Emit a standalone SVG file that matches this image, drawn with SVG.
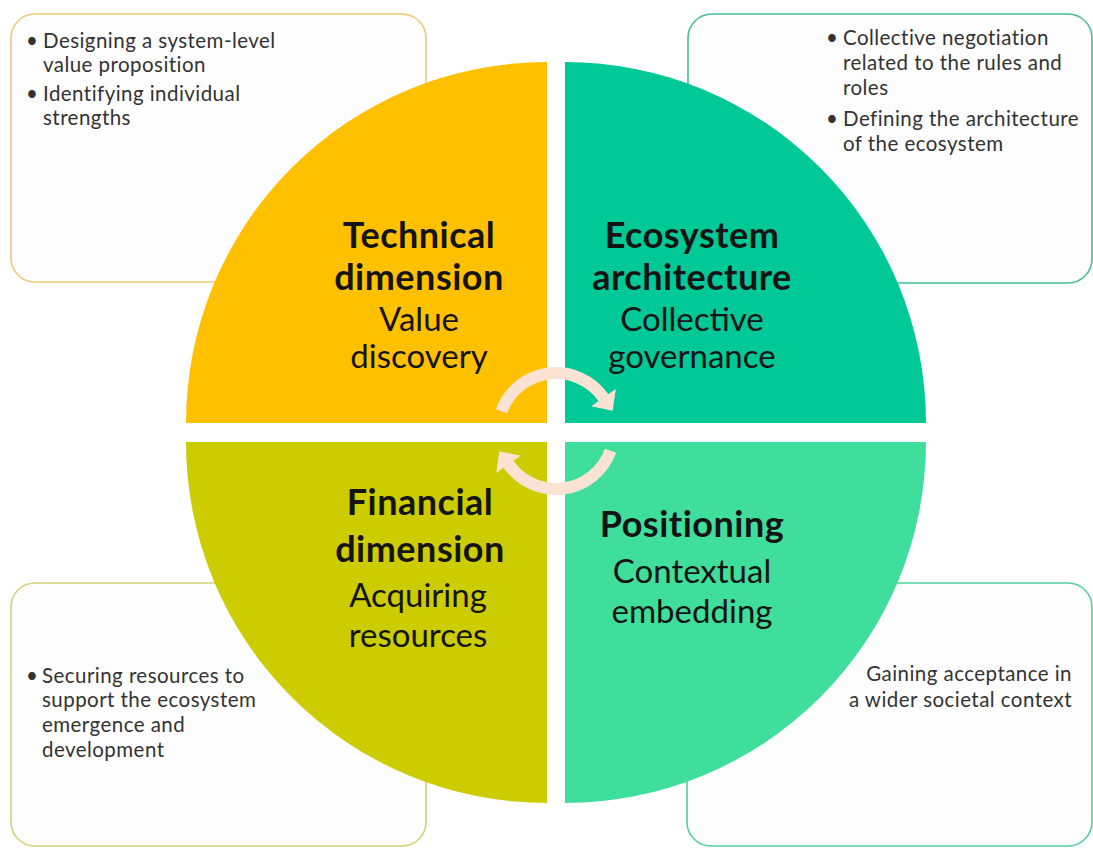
<svg xmlns="http://www.w3.org/2000/svg" width="1093" height="848" viewBox="0 0 1093 848">
  <style>
    .box { fill: #FDFDFD; stroke-width: 1.6; }
    .note { font-family: Lato, "Liberation Sans", sans-serif; font-size: 20.5px; letter-spacing: 0.45px; fill: #333333; }
    .title { font-family: Lato, "Liberation Sans", sans-serif; font-size: 36px; letter-spacing: 0.5px; font-weight: 700; fill: #141414; text-anchor: middle; }
    .sub { font-family: Lato, "Liberation Sans", sans-serif; font-size: 33px; fill: #141414; text-anchor: middle; }
    .cycle { fill: none; stroke: #FBE3D4; stroke-width: 12; }
    .head { fill: #FBE3D4; }
  </style>

  <rect width="1093" height="848" fill="#FFFFFF"/>

  <!-- Note cards behind the quadrants -->
  <g id="note-technical">
    <rect class="box" x="11" y="14" width="415" height="268" rx="24" stroke="#EDC978"/>
    <text class="note"><tspan x="26" y="48">•</tspan><tspan x="43" y="48">Designing a system-level</tspan><tspan x="43" y="72">value proposition</tspan><tspan x="26" y="101">•</tspan><tspan x="43" y="101">Identifying individual</tspan><tspan x="43" y="125">strengths</tspan></text>
  </g>
  <g id="note-architecture">
    <rect class="box" x="688" y="14" width="404" height="269" rx="24" stroke="#45BE97"/>
    <text class="note"><tspan x="826" y="45">•</tspan><tspan x="843" y="45">Collective negotiation</tspan><tspan x="843" y="70">related to the rules and</tspan><tspan x="843" y="95">roles</tspan><tspan x="826" y="126">•</tspan><tspan x="843" y="126">Defining the architecture</tspan><tspan x="843" y="151">of the ecosystem</tspan></text>
  </g>
  <g id="note-financial">
    <rect class="box" x="11" y="583" width="415" height="263" rx="24" stroke="#D2D27A"/>
    <text class="note"><tspan x="26" y="683">•</tspan><tspan x="42" y="683">Securing resources to</tspan><tspan x="42" y="707">support the ecosystem</tspan><tspan x="42" y="732">emergence and</tspan><tspan x="42" y="757">development</tspan></text>
  </g>
  <g id="note-positioning">
    <rect class="box" x="687" y="583" width="405" height="263" rx="24" stroke="#55CF9C"/>
    <text class="note" text-anchor="end"><tspan x="1072" y="681">Gaining acceptance in</tspan><tspan x="1072" y="707">a wider societal context</tspan></text>
  </g>

  <!-- Quadrants of the circle -->
  <g id="technical-dimension">
    <path d="M547,423 L186,423 A361,361 0 0 1 547,62 Z" fill="#FFC000"/>
    <text class="title" x="419" y="248">Technical</text>
    <text class="title" x="419" y="290">dimension</text>
    <text class="sub" x="419" y="331">Value</text>
    <text class="sub" x="419" y="368">discovery</text>
  </g>
  <g id="ecosystem-architecture">
    <path d="M565,423 L565,62 A361,361 0 0 1 926,423 Z" fill="#00C896"/>
    <text class="title" x="692" y="248">Ecosystem</text>
    <text class="title" x="692" y="290">architecture</text>
    <text class="sub" x="692" y="331">Collective</text>
    <text class="sub" x="692" y="368">governance</text>
  </g>
  <g id="financial-dimension">
    <path d="M547,442 L547,803 A361,361 0 0 1 186,442 Z" fill="#CCCC00"/>
    <text class="title" x="420" y="515">Financial</text>
    <text class="title" x="420" y="562">dimension</text>
    <text class="sub" x="418" y="607">Acquiring</text>
    <text class="sub" x="418" y="647">resources</text>
  </g>
  <g id="positioning">
    <path d="M565,442 L926,442 A361,361 0 0 1 565,803 Z" fill="#40DE9C"/>
    <text class="title" x="692" y="537">Positioning</text>
    <text class="sub" x="692" y="583">Contextual</text>
    <text class="sub" x="692" y="623">embedding</text>
  </g>

  <!-- Circular arrows in the centre -->
  <g id="connectors">
    <path class="cycle" d="M501.5,411.2 A58,58 0 0 1 603.5,397.7"/>
    <polygon class="head" points="615.8,389.1 591.2,406.3 612.7,410.8"/>
    <path class="cycle" d="M610.5,450.8 A58,58 0 0 1 508.5,464.3"/>
    <polygon class="head" points="496.2,472.9 520.8,455.7 499.3,451.2"/>
  </g>
</svg>
